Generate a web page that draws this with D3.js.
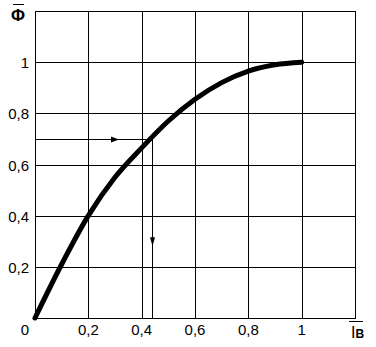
<!DOCTYPE html>
<html>
<head>
<meta charset="utf-8">
<script src="https://cdn.jsdelivr.net/npm/d3@7"></script>
<style>
  body { margin: 0; background: #fff; }
  text { font-family: "Liberation Sans", Arial, sans-serif; fill: #000; }
</style>
</head>
<body>
<div id="chart"></div>
<script>
// curve: relative current vs relative flux
const curveX = [0, 0.1, 0.2, 0.3, 0.4, 0.5, 0.6, 0.7, 0.8, 0.9, 1.0];
const curveY = [0, 0.21, 0.40, 0.55, 0.665, 0.77, 0.855, 0.92, 0.965, 0.99, 1.0];
const xTicks = [0.2, 0.4, 0.6, 0.8, 1];
const yTicks = [0.2, 0.4, 0.6, 0.8, 1];
// construction lines (arrow) at flux 0.7
const markY = 0.7;
const markX = 0.44;

const width = 376, height = 347;
const margin = {top: 11, right: 21, bottom: 29, left: 35};

const svg = d3.select("#chart")
  .append("svg")
    .attr("width", width)
    .attr("height", height);

const x = d3.scaleLinear().domain([0, 1.2]).range([margin.left, width - margin.right]);
const y = d3.scaleLinear().domain([0, 1.2]).range([height - margin.bottom, margin.top]);

const fmt = d => String(d).replace(".", ",");

// grid
svg.append("g")
  .selectAll("line")
  .data(xTicks)
  .join("line")
    .attr("x1", d => Math.round(x(d)) + 0.5)
    .attr("x2", d => Math.round(x(d)) + 0.5)
    .attr("y1", y(0))
    .attr("y2", y(1.2))
    .attr("stroke", "#000");

svg.append("g")
  .selectAll("line")
  .data(yTicks)
  .join("line")
    .attr("x1", x(0))
    .attr("x2", x(1.2))
    .attr("y1", d => Math.round(y(d)) + 0.5)
    .attr("y2", d => Math.round(y(d)) + 0.5)
    .attr("stroke", "#000");

// frame
svg.append("rect")
  .attr("x", x(0) + 0.5)
  .attr("y", y(1.2) + 0.5)
  .attr("width", x(1.2) - x(0))
  .attr("height", y(0) - y(1.2))
  .attr("fill", "none")
  .attr("stroke", "#000");

// tick labels
svg.append("g")
  .selectAll("text")
  .data(xTicks)
  .join("text")
    .attr("x", d => x(d))
    .attr("y", y(0) + 17)
    .attr("text-anchor", "middle")
    .attr("font-size", 15)
    .text(fmt);

svg.append("g")
  .selectAll("text")
  .data(yTicks)
  .join("text")
    .attr("x", x(0) - 6)
    .attr("y", d => y(d) + 6)
    .attr("text-anchor", "end")
    .attr("font-size", 15)
    .text(fmt);

svg.append("text")
  .attr("x", x(0) - 6)
  .attr("y", y(0) + 17)
  .attr("text-anchor", "end")
  .attr("font-size", 15)
  .text("0");

// construction lines with arrowheads
const yl = Math.round(y(markY)) + 0.5;
const xl = Math.round(x(markX)) + 0.5;
svg.append("line")
  .attr("x1", x(0)).attr("x2", xl)
  .attr("y1", yl).attr("y2", yl)
  .attr("stroke", "#000");
svg.append("line")
  .attr("x1", xl).attr("x2", xl)
  .attr("y1", yl).attr("y2", y(0))
  .attr("stroke", "#000");

const ax = x(0.3), ay = y(0.3);
svg.append("path")
  .attr("d", `M${ax + 4},${yl} L${ax - 4},${yl - 3} L${ax - 4},${yl + 3} Z`)
  .attr("fill", "#000");
svg.append("path")
  .attr("d", `M${xl},${ay + 5} L${xl - 2.5},${ay - 4} L${xl + 2.5},${ay - 4} Z`)
  .attr("fill", "#000");

// main curve
const pts = curveX.map((d, i) => [d, curveY[i]]);
svg.append("path")
  .datum(pts)
  .attr("fill", "none")
  .attr("stroke", "#000")
  .attr("stroke-width", 5)
  .attr("stroke-linecap", "round")
  .attr("d", d3.line().x(d => x(d[0])).y(d => y(d[1])).curve(d3.curveMonotoneX));

// axis titles
svg.append("text")
  .attr("x", 18)
  .attr("y", 21)
  .attr("text-anchor", "middle")
  .attr("font-size", 17)
  .attr("font-family", "Liberation Serif, serif")
  .attr("font-weight", "bold")
  .text("Φ");
svg.append("line")
  .attr("x1", 13).attr("x2", 24)
  .attr("y1", 4.5).attr("y2", 4.5)
  .attr("stroke", "#000");

const ib = svg.append("text")
  .attr("x", 351)
  .attr("y", 338)
  .attr("font-size", 16);
ib.append("tspan").text("I");
ib.append("tspan")
  .attr("font-size", 12)
  .attr("font-weight", "bold")
  .attr("dy", 0)
  .text("B");
svg.append("line")
  .attr("x1", 349).attr("x2", 363)
  .attr("y1", 321.5).attr("y2", 321.5)
  .attr("stroke", "#000");
</script>
</body>
</html>
